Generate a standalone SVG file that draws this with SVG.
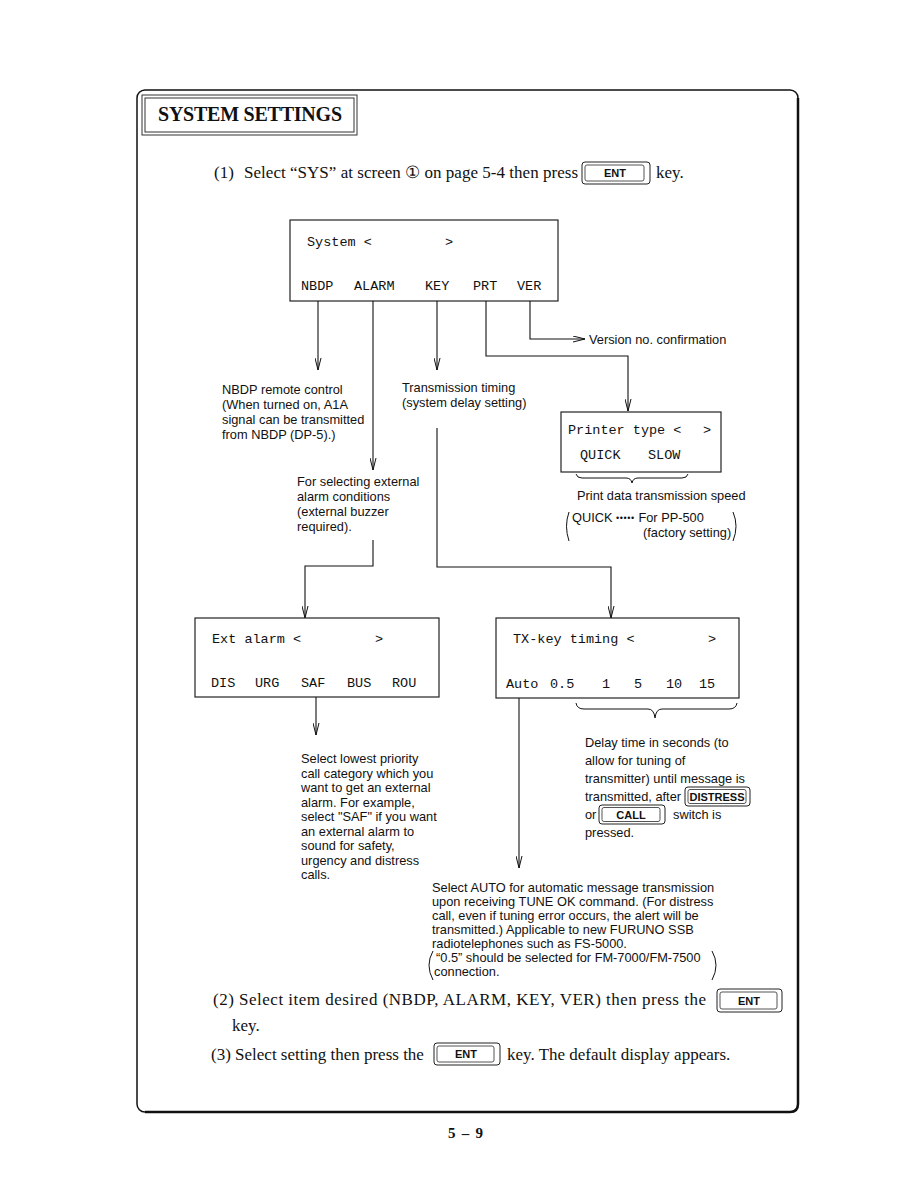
<svg xmlns="http://www.w3.org/2000/svg" width="918" height="1188" viewBox="0 0 918 1188">
<style>
.serif{font-family:"Liberation Serif","Times New Roman",serif;fill:#111}
.sans{font-family:"Liberation Sans",Arial,sans-serif;fill:#111;font-size:12.8px}
.mono{font-family:"Liberation Mono","Courier New",monospace;fill:#111;font-size:13.5px}
.body{font-size:17px}
.box{fill:#fff;stroke:#222;stroke-width:1.2}
.ln{fill:none;stroke:#111;stroke-width:1.1}
.key-o{fill:#fff;stroke:#222;stroke-width:1}
.key-i{fill:none;stroke:#555;stroke-width:1}
.keyt{font-family:"Liberation Sans",Arial,sans-serif;font-weight:bold;font-size:11px;fill:#111;text-anchor:middle}
.br{fill:none;stroke:#111;stroke-width:1}
</style>
<defs>
<marker id="arr" viewBox="0 0 12 7" refX="12" refY="3.5" markerWidth="12" markerHeight="7" orient="auto" markerUnits="userSpaceOnUse">
<path d="M0,0.5 L12,3.5 L0,6.5" fill="none" stroke="#111" stroke-width="1"/>
</marker>
</defs>
<rect width="918" height="1188" fill="#fff"/>

<g id="frame">
<rect x="137" y="90" width="661" height="1022" rx="8" fill="none" stroke="#111" stroke-width="1.5"/>
<path d="M798,98 V1104 Q798,1112 790,1112 H145" fill="none" stroke="#111" stroke-width="2.5"/>
</g>

<g id="title">
<rect x="142" y="95" width="215" height="40" fill="none" stroke="#333" stroke-width="1"/>
<rect x="145" y="98" width="209" height="34" fill="none" stroke="#333" stroke-width="1"/>
<text class="serif" x="158" y="121" font-size="20" font-weight="bold" textLength="184">SYSTEM SETTINGS</text>
</g>

<g id="step1">
<text class="serif body" x="214" y="178">(1)</text>
<text class="serif body" x="244" y="178" textLength="334">Select “SYS” at screen ① on page 5-4 then press</text>
<g id="key-ent1">
<rect class="key-o" x="582" y="162" width="68" height="22" rx="3"/>
<rect class="key-i" x="585" y="165" width="59" height="16" rx="2"/>
<text class="keyt" x="615" y="177">ENT</text>
</g>
<text class="serif body" x="656" y="178">key.</text>
</g>

<g id="system-screen">
<rect class="box" x="290" y="220" width="268" height="81"/>
<text class="mono" x="307" y="246">System &lt;</text>
<text class="mono" x="445" y="246">&gt;</text>
<text class="mono" x="301" y="290">NBDP</text>
<text class="mono" x="354" y="290">ALARM</text>
<text class="mono" x="425" y="290">KEY</text>
<text class="mono" x="473" y="290">PRT</text>
<text class="mono" x="517" y="290">VER</text>
</g>

<g id="connectors">
<path class="ln" d="M318,301 V370" marker-end="url(#arr)"/>
<path class="ln" d="M373,301 V470" marker-end="url(#arr)"/>
<path class="ln" d="M437,301 V370" marker-end="url(#arr)"/>
<path class="ln" d="M486,301 V356 H628 V411" marker-end="url(#arr)"/>
<path class="ln" d="M530,301 V339 H585" marker-end="url(#arr)"/>
<path class="ln" d="M437,428 V567 H611 V618" marker-end="url(#arr)"/>
<path class="ln" d="M373,540 V566 H305 V618" marker-end="url(#arr)"/>
<path class="ln" d="M316,697 V735" marker-end="url(#arr)"/>
<path class="ln" d="M519,698 V868" marker-end="url(#arr)"/>
</g>

<g id="ver-note">
<text class="sans" x="589" y="344">Version no. confirmation</text>
</g>

<g id="nbdp-note">
<text class="sans" x="222" y="394">NBDP remote control</text>
<text class="sans" x="222" y="409">(When turned on, A1A</text>
<text class="sans" x="222" y="424">signal can be transmitted</text>
<text class="sans" x="222" y="439">from NBDP (DP-5).)</text>
</g>

<g id="key-note">
<text class="sans" x="402" y="392">Transmission timing</text>
<text class="sans" x="402" y="407">(system delay setting)</text>
</g>

<g id="alarm-note">
<text class="sans" x="297" y="486">For selecting external</text>
<text class="sans" x="297" y="501">alarm conditions</text>
<text class="sans" x="297" y="516">(external buzzer</text>
<text class="sans" x="297" y="531">required).</text>
</g>

<g id="printer-screen">
<rect class="box" x="561" y="412" width="160" height="60"/>
<text class="mono" x="568" y="434">Printer type &lt;</text>
<text class="mono" x="703" y="434">&gt;</text>
<text class="mono" x="580" y="459">QUICK</text>
<text class="mono" x="648" y="459">SLOW</text>
</g>

<g id="printer-note">
<path class="br" d="M576,474 Q577,478 582,478 H626 Q631,478 632,483 Q633,478 638,478 H682 Q687,478 688,474"/>
<text class="sans" x="577" y="500">Print data transmission speed</text>
<path class="br" d="M569,512 Q564,526 569,541"/>
<text class="sans" x="572" y="522">QUICK <tspan font-size="9" letter-spacing="0.6" dy="-1">•••••</tspan><tspan dy="1"> For PP-500</tspan></text>
<text class="sans" x="643" y="537">(factory setting)</text>
<path class="br" d="M733,512 Q739,526 733,541"/>
</g>

<g id="ext-alarm-screen">
<rect class="box" x="195" y="618" width="244" height="79"/>
<text class="mono" x="212" y="643">Ext alarm &lt;</text>
<text class="mono" x="375" y="643">&gt;</text>
<text class="mono" x="211" y="687">DIS</text>
<text class="mono" x="255" y="687">URG</text>
<text class="mono" x="301" y="687">SAF</text>
<text class="mono" x="347" y="687">BUS</text>
<text class="mono" x="392" y="687">ROU</text>
</g>

<g id="txkey-screen">
<rect class="box" x="496" y="618" width="243" height="80"/>
<text class="mono" x="513" y="643">TX-key timing &lt;</text>
<text class="mono" x="708" y="643">&gt;</text>
<text class="mono" x="506" y="688">Auto</text>
<text class="mono" x="550" y="688">0.5</text>
<text class="mono" x="602" y="688">1</text>
<text class="mono" x="634" y="688">5</text>
<text class="mono" x="666" y="688">10</text>
<text class="mono" x="699" y="688">15</text>
</g>

<g id="delay-note">
<path class="br" d="M576,703 Q577,709 584,709 H648 Q654,709 655,718 Q656,709 662,709 H729 Q736,709 737,703"/>
<text class="sans" x="585" y="747">Delay time in seconds (to</text>
<text class="sans" x="585" y="765">allow for tuning of</text>
<text class="sans" x="585" y="783">transmitter) until message is</text>
<text class="sans" x="585" y="801">transmitted, after</text>
<g id="key-distress">
<rect class="key-o" x="685" y="787" width="65" height="19" rx="3"/>
<rect class="key-i" x="688" y="789.5" width="58" height="14" rx="2"/>
<text class="keyt" x="717" y="801" font-size="11">DISTRESS</text>
</g>
<text class="sans" x="585" y="819">or</text>
<g id="key-call">
<rect class="key-o" x="599" y="805" width="66" height="19" rx="3"/>
<rect class="key-i" x="602" y="807.5" width="58" height="14" rx="2"/>
<text class="keyt" x="631" y="819">CALL</text>
</g>
<text class="sans" x="673" y="819">switch is</text>
<text class="sans" x="585" y="837">pressed.</text>
</g>

<g id="saf-note">
<text class="sans" x="301" y="763">Select lowest priority</text>
<text class="sans" x="301" y="777.5">call category which you</text>
<text class="sans" x="301" y="792">want to get an external</text>
<text class="sans" x="301" y="806.5">alarm. For example,</text>
<text class="sans" x="301" y="821">select "SAF" if you want</text>
<text class="sans" x="301" y="835.5">an external alarm to</text>
<text class="sans" x="301" y="850">sound for safety,</text>
<text class="sans" x="301" y="864.5">urgency and distress</text>
<text class="sans" x="301" y="879">calls.</text>
</g>

<g id="auto-note">
<text class="sans" x="432" y="892">Select AUTO for automatic message transmission</text>
<text class="sans" x="432" y="906">upon receiving TUNE OK command. (For distress</text>
<text class="sans" x="432" y="920">call, even if tuning error occurs, the alert will be</text>
<text class="sans" x="432" y="934">transmitted.) Applicable to new FURUNO SSB</text>
<text class="sans" x="432" y="948">radiotelephones such as FS-5000.</text>
<path class="br" d="M433,951 Q425,965 433,980"/>
<text class="sans" x="436" y="962">“0.5” should be selected for FM-7000/FM-7500</text>
<text class="sans" x="434" y="976">connection.</text>
<path class="br" d="M712,951 Q720,965 712,980"/>
</g>

<g id="step2">
<text class="serif body" x="213" y="1005" textLength="493">(2) Select item desired (NBDP, ALARM, KEY, VER) then press the</text>
<g id="key-ent2">
<rect class="key-o" x="717" y="989" width="65" height="23" rx="3"/>
<rect class="key-i" x="720" y="992" width="57" height="17" rx="2"/>
<text class="keyt" x="749" y="1005">ENT</text>
</g>
<text class="serif body" x="232" y="1031">key.</text>
</g>

<g id="step3">
<text class="serif body" x="211" y="1060">(3) Select setting then press the</text>
<g id="key-ent3">
<rect class="key-o" x="434" y="1043" width="66" height="22" rx="3"/>
<rect class="key-i" x="437" y="1046" width="57" height="16" rx="2"/>
<text class="keyt" x="466" y="1058">ENT</text>
</g>
<text class="serif body" x="507" y="1060">key. The default display appears.</text>
</g>

<text class="serif" x="448" y="1138" font-size="15" font-weight="bold" textLength="35">5 – 9</text>
</svg>
